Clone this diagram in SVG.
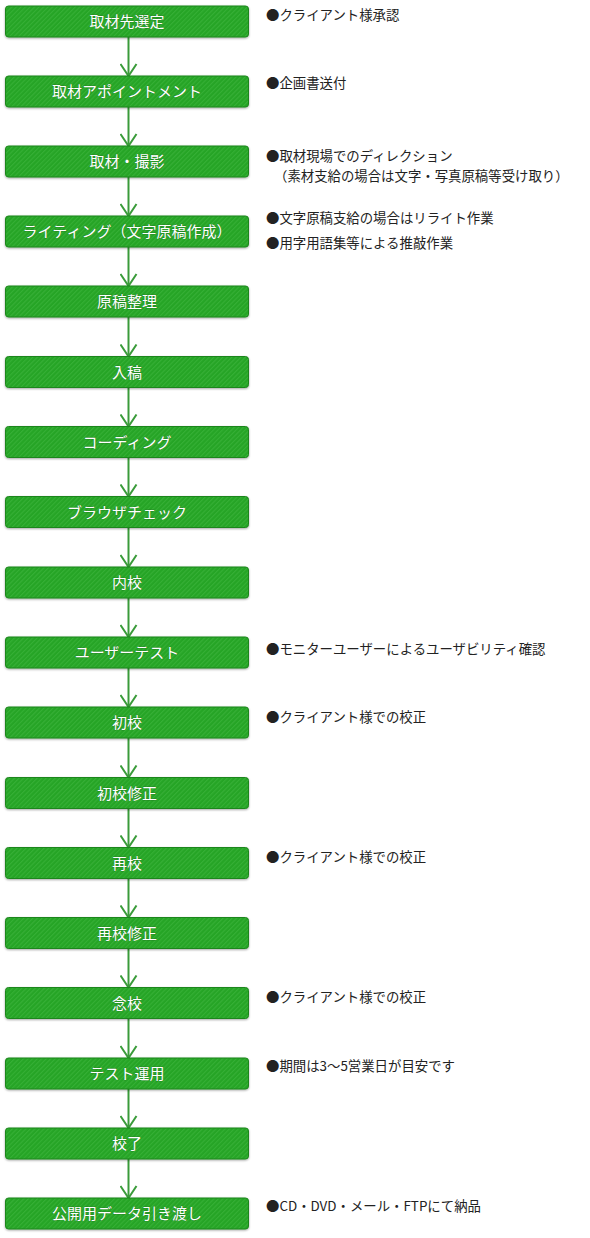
<svg xmlns="http://www.w3.org/2000/svg" width="590" height="1238" viewBox="0 0 590 1238">
<defs>
<pattern id="hatch" width="3.2" height="3.2" patternUnits="userSpaceOnUse" patternTransform="rotate(45)">
<rect width="3.2" height="3.2" fill="#26a426"/>
<rect width="1.1" height="3.2" fill="#36b036"/>
</pattern>
<filter id="sh" x="-5%" y="-20%" width="110%" height="150%">
<feDropShadow dx="0" dy="1" stdDeviation="1" flood-color="#000" flood-opacity="0.35"/>
</filter>
<marker id="arr" viewBox="0 0 14 18" refX="13" refY="9" markerWidth="14" markerHeight="18" markerUnits="userSpaceOnUse" orient="auto">
<path d="M1,1 L13,9 L1,17" fill="none" stroke="#3a9b3a" stroke-width="2"/>
</marker>
</defs>
<style>
.box{fill:url(#hatch);stroke:#1c861c;stroke-width:1;filter:url(#sh)}
.lbl{font-family:"Noto Sans CJK JP","Noto Sans",sans-serif;font-size:15px;fill:#fff;text-anchor:middle;stroke:#1a6a1a;stroke-width:0.4;paint-order:stroke}
.note{font-family:"Noto Sans CJK JP","Noto Sans",sans-serif;font-size:13.4px;fill:#222}
.con{stroke:#3a9b3a;stroke-width:2;fill:none}
</style>
<g id="connectors">
<line class="con" x1="128.5" y1="37" x2="128.5" y2="76" marker-end="url(#arr)"/>
<line class="con" x1="128.5" y1="107" x2="128.5" y2="146" marker-end="url(#arr)"/>
<line class="con" x1="128.5" y1="177" x2="128.5" y2="216" marker-end="url(#arr)"/>
<line class="con" x1="128.5" y1="247" x2="128.5" y2="286" marker-end="url(#arr)"/>
<line class="con" x1="128.5" y1="317" x2="128.5" y2="356.5" marker-end="url(#arr)"/>
<line class="con" x1="128.5" y1="387.5" x2="128.5" y2="426.5" marker-end="url(#arr)"/>
<line class="con" x1="128.5" y1="457.5" x2="128.5" y2="496.5" marker-end="url(#arr)"/>
<line class="con" x1="128.5" y1="527.5" x2="128.5" y2="567" marker-end="url(#arr)"/>
<line class="con" x1="128.5" y1="598" x2="128.5" y2="637" marker-end="url(#arr)"/>
<line class="con" x1="128.5" y1="668" x2="128.5" y2="707" marker-end="url(#arr)"/>
<line class="con" x1="128.5" y1="738" x2="128.5" y2="777.5" marker-end="url(#arr)"/>
<line class="con" x1="128.5" y1="808.5" x2="128.5" y2="847.5" marker-end="url(#arr)"/>
<line class="con" x1="128.5" y1="878.5" x2="128.5" y2="917.5" marker-end="url(#arr)"/>
<line class="con" x1="128.5" y1="948.5" x2="128.5" y2="987.5" marker-end="url(#arr)"/>
<line class="con" x1="128.5" y1="1018.5" x2="128.5" y2="1058" marker-end="url(#arr)"/>
<line class="con" x1="128.5" y1="1089" x2="128.5" y2="1128" marker-end="url(#arr)"/>
<line class="con" x1="128.5" y1="1159" x2="128.5" y2="1198" marker-end="url(#arr)"/>
</g>
<g id="n1"><rect class="box" x="5.5" y="6" width="243" height="31" rx="3"/><text class="lbl" x="127" y="27">取材先選定</text></g>
<g id="n2"><rect class="box" x="5.5" y="76" width="243" height="31" rx="3"/><text class="lbl" x="127" y="97">取材アポイントメント</text></g>
<g id="n3"><rect class="box" x="5.5" y="146" width="243" height="31" rx="3"/><text class="lbl" x="127" y="167">取材・撮影</text></g>
<g id="n4"><rect class="box" x="5.5" y="216" width="243" height="31" rx="3"/><text class="lbl" x="127" y="237">ライティング（文字原稿作成）</text></g>
<g id="n5"><rect class="box" x="5.5" y="286" width="243" height="31" rx="3"/><text class="lbl" x="127" y="307">原稿整理</text></g>
<g id="n6"><rect class="box" x="5.5" y="356.5" width="243" height="31" rx="3"/><text class="lbl" x="127" y="377.5">入稿</text></g>
<g id="n7"><rect class="box" x="5.5" y="426.5" width="243" height="31" rx="3"/><text class="lbl" x="127" y="447.5">コーディング</text></g>
<g id="n8"><rect class="box" x="5.5" y="496.5" width="243" height="31" rx="3"/><text class="lbl" x="127" y="517.5">ブラウザチェック</text></g>
<g id="n9"><rect class="box" x="5.5" y="567" width="243" height="31" rx="3"/><text class="lbl" x="127" y="588">内校</text></g>
<g id="n10"><rect class="box" x="5.5" y="637" width="243" height="31" rx="3"/><text class="lbl" x="127" y="658">ユーザーテスト</text></g>
<g id="n11"><rect class="box" x="5.5" y="707" width="243" height="31" rx="3"/><text class="lbl" x="127" y="728">初校</text></g>
<g id="n12"><rect class="box" x="5.5" y="777.5" width="243" height="31" rx="3"/><text class="lbl" x="127" y="798.5">初校修正</text></g>
<g id="n13"><rect class="box" x="5.5" y="847.5" width="243" height="31" rx="3"/><text class="lbl" x="127" y="868.5">再校</text></g>
<g id="n14"><rect class="box" x="5.5" y="917.5" width="243" height="31" rx="3"/><text class="lbl" x="127" y="938.5">再校修正</text></g>
<g id="n15"><rect class="box" x="5.5" y="987.5" width="243" height="31" rx="3"/><text class="lbl" x="127" y="1008.5">念校</text></g>
<g id="n16"><rect class="box" x="5.5" y="1058" width="243" height="31" rx="3"/><text class="lbl" x="127" y="1079">テスト運用</text></g>
<g id="n17"><rect class="box" x="5.5" y="1128" width="243" height="31" rx="3"/><text class="lbl" x="127" y="1149">校了</text></g>
<g id="n18"><rect class="box" x="5.5" y="1198" width="243" height="31" rx="3"/><text class="lbl" x="127" y="1219">公開用データ引き渡し</text></g>
<g id="notes">
<text class="note" x="266" y="20">●クライアント様承認</text>
<text class="note" x="266" y="88">●企画書送付</text>
<text class="note" x="266" y="160.5">●取材現場でのディレクション</text>
<text class="note" x="274" y="180.5">（素材支給の場合は文字・写真原稿等受け取り）</text>
<text class="note" x="266" y="223">●文字原稿支給の場合はリライト作業</text>
<text class="note" x="266" y="248">●用字用語集等による推敲作業</text>
<text class="note" x="266" y="654">●モニターユーザーによるユーザビリティ確認</text>
<text class="note" x="266" y="722">●クライアント様での校正</text>
<text class="note" x="266" y="862">●クライアント様での校正</text>
<text class="note" x="266" y="1002">●クライアント様での校正</text>
<text class="note" x="266" y="1071">●期間は3～5営業日が目安です</text>
<text class="note" x="266" y="1211">●CD・DVD・メール・FTPにて納品</text>
</g>
</svg>
